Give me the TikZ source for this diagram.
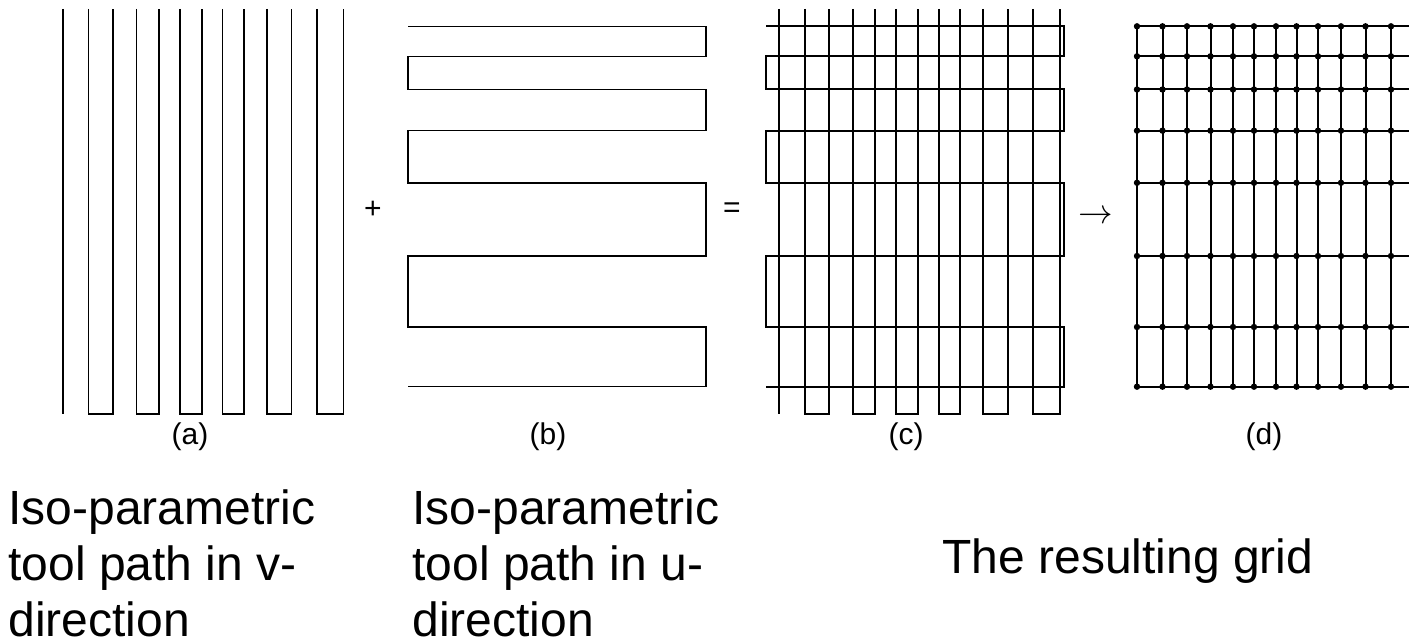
\documentclass[tikz,border=0pt]{standalone}
\usepackage{fontspec}
\setmainfont{Liberation Sans}
\def\vlines{63,88.5,113,136.5,159,180,202,222.5,244,267,291.5,317,343.5}
\def\ulines{26.3,56.3,89.5,130.7,182.8,256,327,386.7}
\newcommand\vtoolpath[1]{%
  \draw[shift={(#1,0)}] (63,9)--(63,414);
  \foreach \a/\b in {88.5/113,136.5/159,180/202,222.5/244,267/291.5,317/343.5}
    \draw[shift={(#1,0)}] (\a,9)--(\a,414)--(\b,414)--(\b,9);}
\newcommand\utoolpath[1]{%
  \draw[shift={(#1,0)}] (50,26.3) -| (348,56.3) -| (50,89.5) -| (348,130.7)
    -| (50,182.8) -| (348,256) -| (50,327) -| (348,386.7) -- (50,386.7);}
\begin{document}
\begin{tikzpicture}[x=.5pt, y=-.5pt, line join=miter,
  thinpath/.style={line width=.75pt},
  thickpath/.style={line width=1pt},
  sign/.style={font=\fontsize{15}{18}\selectfont, inner sep=0pt},
  caption/.style={font=\fontsize{24}{28}\selectfont, align=left, anchor=base west, inner sep=0pt}]
\useasboundingbox (0,0) rectangle (1409,641);
\begin{scope}[thinpath]
\vtoolpath{0}
\utoolpath{358}
\end{scope}
\begin{scope}[thickpath]
\vtoolpath{716}
\utoolpath{716}
\end{scope}
\begin{scope}[thickpath]
\clip (0,0) rectangle (1409,641);
\foreach \y in \ulines \draw (1137,\y)--(1417.5,\y);
\foreach \x in \vlines \draw (\x+1074,26.3)--(\x+1074,386.7);
\foreach \x in \vlines \foreach \y in \ulines \fill (\x+1074,\y) circle (3.2);
\end{scope}
\foreach \n/\x in {a/190,b/548,c/906,d/1264} \node[sign] (lab\n) at (\x,437) {(\n)};
\node[sign] (plus) at (373,210) {+};
\node[sign] (eq) at (732,210) {=};
\node[sign, font=\fontsize{19}{22}\selectfont] (to) at (1096,217) {$\rightarrow$};
\node[caption] (capv) at (8,636) {Iso-parametric\\tool path in v-\\direction};
\node[caption] (capu) at (412,636) {Iso-parametric\\tool path in u-\\direction};
\node[caption] (capd) at (942,574) {The resulting grid};
\end{tikzpicture}
\end{document}
